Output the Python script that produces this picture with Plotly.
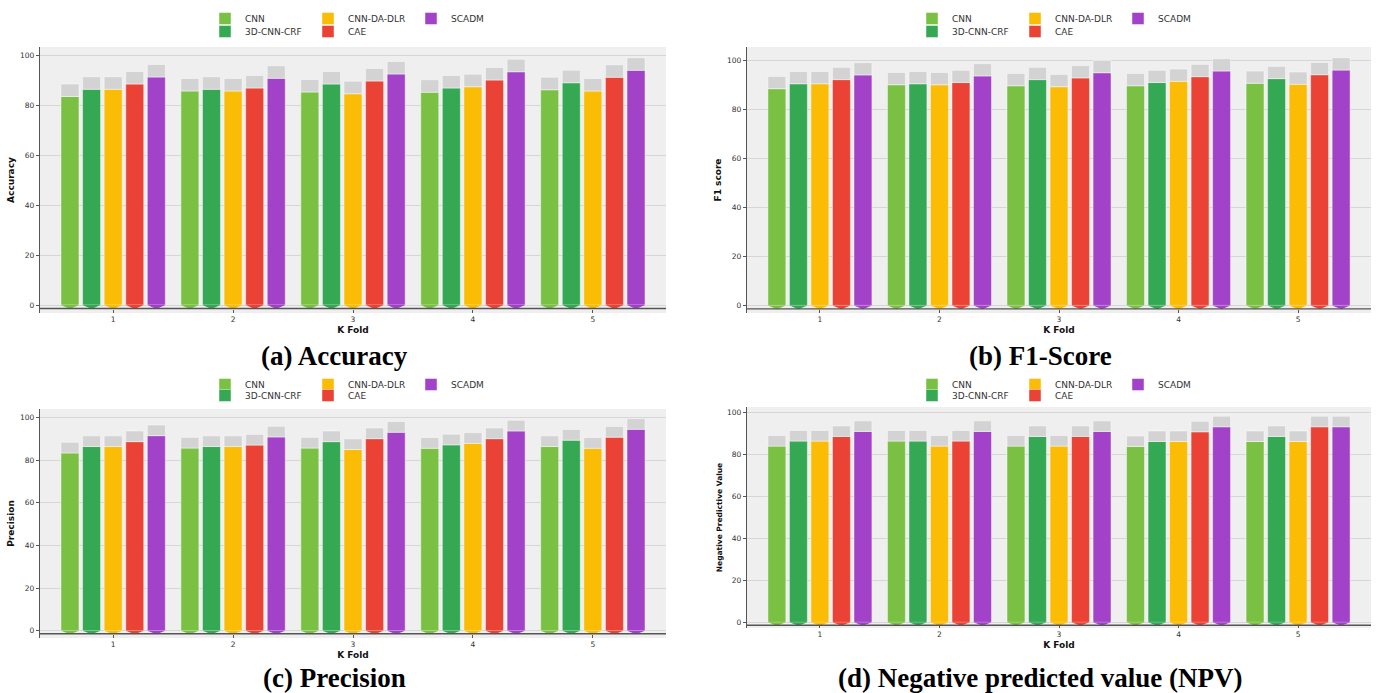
import plotly.graph_objects as go

# ---- data ----
folds = [1, 2, 3, 4, 5]
methods = ["CNN", "3D-CNN-CRF", "CNN-DA-DLR", "CAE", "SCADM"]
colors = ["#7ac143", "#34a853", "#fbbc05", "#ea4335", "#a142c8"]

accuracy = {
    "CNN":        [83.4, 85.6, 85.2, 85.1, 86.1],
    "3D-CNN-CRF": [86.3, 86.3, 88.4, 86.8, 88.9],
    "CNN-DA-DLR": [86.3, 85.6, 84.5, 87.3, 85.6],
    "CAE":        [88.4, 86.8, 89.6, 90.0, 91.1],
    "SCADM":      [91.2, 90.7, 92.4, 93.3, 93.9],
}
f1_score = {
    "CNN":        [88.4, 90.0, 89.6, 89.6, 90.6],
    "3D-CNN-CRF": [90.4, 90.4, 92.1, 90.9, 92.5],
    "CNN-DA-DLR": [90.4, 90.0, 89.2, 91.4, 90.2],
    "CAE":        [92.1, 90.9, 92.8, 93.3, 94.1],
    "SCADM":      [94.0, 93.6, 94.9, 95.6, 96.0],
}
precision = {
    "CNN":        [83.3, 85.6, 85.6, 85.5, 86.3],
    "3D-CNN-CRF": [86.3, 86.3, 88.6, 87.1, 89.3],
    "CNN-DA-DLR": [86.3, 86.3, 84.9, 87.8, 85.5],
    "CAE":        [88.6, 87.0, 90.0, 90.0, 90.7],
    "SCADM":      [91.4, 90.8, 93.0, 93.6, 94.4],
}
npv = {
    "CNN":        [83.8, 86.2, 83.8, 83.6, 86.0],
    "3D-CNN-CRF": [86.2, 86.2, 88.4, 86.0, 88.4],
    "CNN-DA-DLR": [86.2, 83.8, 83.8, 86.0, 86.0],
    "CAE":        [88.4, 86.2, 88.4, 90.6, 93.0],
    "SCADM":      [90.8, 90.8, 90.8, 93.0, 93.0],
}
cap_height = 5.0   # grey cap stacked on top of every bar
y_ticks = [0, 20, 40, 60, 80, 100]

W, H = 1379, 693


def px(x):
    return x / W


def py(y):
    return 1 - y / H


# panel layout: (data, y title, caption, x pixel span, y pixel span, y range, legend rows y, y title size)
panels = [
    (accuracy, "Accuracy", "(a) Accuracy", (40, 666), (47, 313), (-3.2, 103.2), (18.5, 31.5), 9),
    (f1_score, "F1 score", "(b) F1-Score", (747, 1371), (47, 313), (-3.1, 105.4), (18.5, 31.5), 9),
    (precision, "Precision", "(c) Precision", (40, 666), (409, 638), (-3.4, 103.9), (384.5, 395.5), 9),
    (npv, "Negative Predictive Value", "(d) Negative predicted value (NPV)",
     (747, 1371), (407, 628), (-2.7, 102.4), (384.5, 395.5), 7.5),
]
captions_y = [356, 356, 678, 678]

bar_w = 0.15
step = 0.18
tip = -1.6

fig = go.Figure()
shapes = []
annotations = []
layout_axes = {}
legends = {}

for p, (data, ytitle, caption, (x0, x1), (y0, y1), yr, (lr1, lr2), ytfont) in enumerate(panels):
    k = "" if p == 0 else str(p + 1)
    xa, ya = "x" + k, "y" + k
    leg_top = "legend" if p == 0 else "legend" + str(2 * p + 1)
    leg_bot = "legend" + str(2 * p + 2)
    for i, m in enumerate(methods):
        off = (i - 2) * step
        xs = [f + off for f in folds]
        vals = data[m]
        row_legend = leg_top if i in (0, 2, 4) else leg_bot
        fig.add_trace(go.Bar(
            x=xs, y=vals, width=bar_w, xaxis=xa, yaxis=ya,
            marker=dict(color=colors[i], line=dict(color="rgba(255,255,255,0.45)", width=1)),
            name=m, legend=row_legend, legendrank=i,
        ))
        fig.add_trace(go.Bar(
            x=xs, y=[cap_height] * len(vals), base=vals, width=bar_w, xaxis=xa, yaxis=ya,
            marker=dict(color="#d3d3d3", line=dict(color="rgba(255,255,255,0.45)", width=1)),
            showlegend=False, hoverinfo="skip",
        ))
        # pointed foot under each bar
        tx, ty = [], []
        for xc in xs:
            tx += [xc - bar_w / 2, xc + bar_w / 2, xc, xc - bar_w / 2, None]
            ty += [0, 0, tip, 0, None]
        fig.add_trace(go.Scatter(
            x=tx, y=ty, xaxis=xa, yaxis=ya, mode="lines", fill="toself",
            fillcolor=colors[i], line=dict(width=0, color=colors[i]),
            showlegend=False, hoverinfo="skip",
        ))

    layout_axes["xaxis" + k] = dict(
        domain=[px(x0), px(x1)], anchor=ya, range=[0.39, 5.61],
        tickvals=folds, ticktext=[str(f) for f in folds],
        ticks="inside", ticklen=3, tickcolor="#555", showgrid=False, zeroline=False,
        showline=False, tickfont=dict(family="DejaVu Sans", size=7.5, color="#333"),
        title=dict(text="K Fold", standoff=4,
                   font=dict(family="DejaVu Sans", size=9, color="#111", weight="bold")),
    )
    layout_axes["yaxis" + k] = dict(
        domain=[py(y1), py(y0)], anchor=xa, range=list(yr),
        tickvals=y_ticks, ticks="outside", ticklen=3, tickcolor="#555",
        showgrid=True, gridcolor="#d6d6d6", gridwidth=1.2, zeroline=False,
        showline=True, linecolor="#555", linewidth=1.2,
        tickfont=dict(family="DejaVu Sans", size=7.5, color="#333"),
        title=dict(text=ytitle, standoff=3,
                   font=dict(family="DejaVu Sans", size=ytfont, color="#111", weight="bold")),
    )
    # dark baseline running under the bar feet
    shapes.append(dict(type="line", xref=xa + " domain", yref=ya, x0=0, x1=1, y0=-1.4, y1=-1.4,
                       line=dict(color="#555", width=1.3), layer="above"))
    # legend rows
    lx = px(x0 + 165)
    for name, ly in ((leg_top, lr1), (leg_bot, lr2)):
        legends[name] = dict(
            x=lx, y=py(ly), xanchor="left", yanchor="middle", orientation="h",
            entrywidth=58, entrywidthmode="pixels", bgcolor="rgba(0,0,0,0)",
            font=dict(family="DejaVu Sans", size=9, color="#333"),
            itemclick=False, itemdoubleclick=False, traceorder="normal",
        )
    annotations.append(dict(
        text="<b>" + caption + "</b>", xref="paper", yref="paper",
        x=px((x0 + x1) / 2 - 19), y=py(captions_y[p]), xanchor="center", yanchor="middle",
        showarrow=False, font=dict(family="Liberation Serif", size=27, color="#000"),
    ))

fig.update_layout(
    width=W, height=H, margin=dict(l=0, r=0, t=0, b=0),
    paper_bgcolor="white", plot_bgcolor="#efefef",
    barmode="overlay", shapes=shapes, annotations=annotations,
    **layout_axes, **legends,
)

fig.write_html("out.html")
